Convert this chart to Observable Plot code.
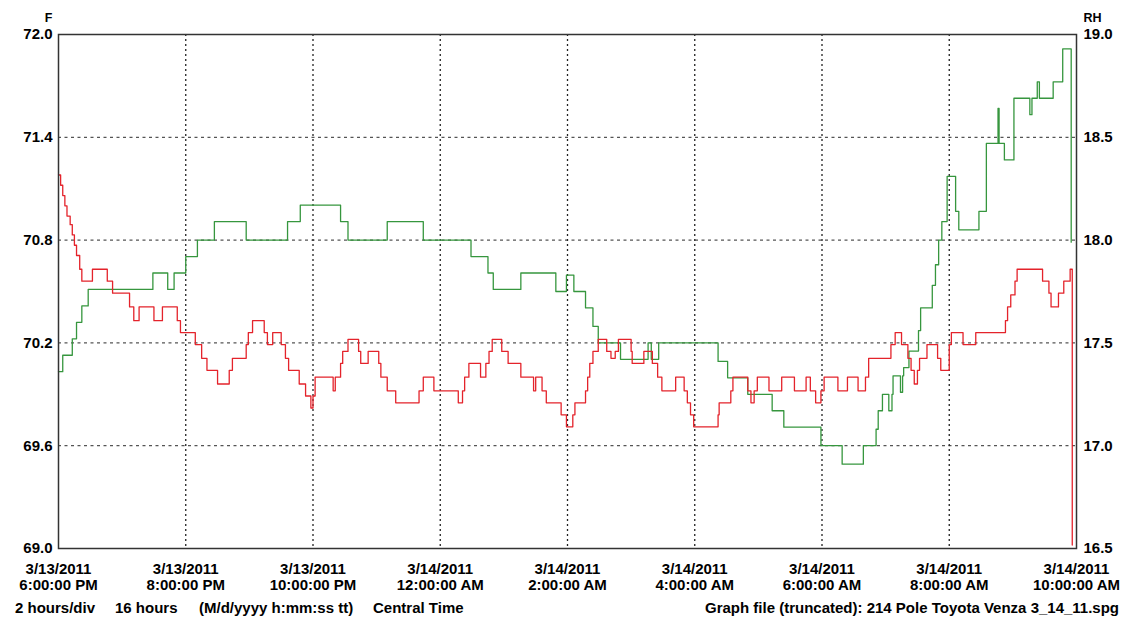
<!DOCTYPE html>
<html><head><meta charset="utf-8">
<script src="https://cdn.jsdelivr.net/npm/d3@7"></script>
<script src="https://cdn.jsdelivr.net/npm/@observablehq/plot@0.6"></script>
<style>
body{margin:0;background:#fff;}
#wrap{position:relative;width:1124px;height:617px;font-family:"Liberation Sans",Arial,sans-serif;font-weight:bold;color:#000;overflow:hidden;}
.foot{position:absolute;top:599px;font-size:15px;line-height:17px;white-space:nowrap;}
</style></head><body>
<div id="wrap"><div id="chart"></div>
<span class="foot" style="left:15px">2 hours/div</span>
<span class="foot" style="left:115px">16 hours</span>
<span class="foot" style="left:199px">(M/d/yyyy h:mm:ss tt)</span>
<span class="foot" style="left:373px">Central Time</span>
<span class="foot" style="left:705px">Graph file (truncated): 214 Pole Toyota Venza 3_14_11.spg</span>
</div>
<script>
// minutes after 3/13/2011 6:00 PM
const tempMinutes = [0,2,4,6,8,11,13,15,17,20,22,32,46,51,67,71,76,90,98,112,115,129,135,140,150,161,164,177,179,183,194,197,202,210,214,217,227,233,238,240,242,259,261,266,268,273,283,285,292,302,304,310,318,340,344,354,377,381,383,387,398,403,406,409,418,424,436,448,450,456,460,474,479,485,487,497,499,501,504,509,517,521,525,528,540,541,552,560,565,569,582,590,593,596,599,622,623,634,636,650,653,656,659,670,682,694,705,709,714,719,722,735,744,754,761,764,785,789,795,801,804,807,810,812,819,829,832,840,842,853,865,893,895,898,902,904,928,934,936,943,948,954,956];
const tempF = [71.18,71.12,71.06,71.00,70.94,70.89,70.83,70.77,70.71,70.63,70.56,70.63,70.56,70.49,70.41,70.33,70.41,70.33,70.41,70.33,70.26,70.19,70.11,70.04,69.96,70.04,70.11,70.19,70.26,70.33,70.26,70.19,70.26,70.19,70.11,70.04,69.96,69.89,69.82,69.89,70.00,69.92,70.00,70.08,70.15,70.22,70.15,70.08,70.15,70.08,70.00,69.92,69.85,69.92,70.00,69.92,69.85,69.92,70.00,70.08,70.00,70.08,70.15,70.22,70.15,70.08,70.00,69.92,70.00,69.92,69.85,69.78,69.71,69.78,69.85,69.92,70.00,70.08,70.15,70.22,70.15,70.11,70.15,70.22,70.15,70.08,70.15,70.08,70.00,69.92,70.00,69.92,69.85,69.78,69.71,69.78,69.85,69.92,70.00,69.92,69.85,69.92,70.00,69.92,70.00,69.92,70.00,69.92,69.85,69.92,70.00,69.92,70.00,69.92,70.00,70.11,70.19,70.26,70.19,70.11,70.04,69.96,70.04,70.11,70.19,70.11,70.04,70.19,70.26,70.19,70.26,70.33,70.41,70.48,70.56,70.63,70.56,70.49,70.41,70.49,70.56,70.63,69.02];
const rhMinutes = [0,4,13,17,22,28,89,103,109,120,131,147,177,216,228,266,273,310,344,389,405,410,436,469,479,486,497,504,509,530,556,559,566,622,631,650,673,684,719,739,759,771,773,777,783,786,787,794,796,797,802,811,813,824,827,830,833,838,846,849,868,875,886,887,892,901,916,918,923,925,938,947,955];
const rhPct = [17.36,17.44,17.52,17.60,17.68,17.76,17.84,17.76,17.84,17.92,18.00,18.09,18.00,18.09,18.17,18.09,18.00,18.09,18.00,17.92,17.84,17.76,17.84,17.75,17.83,17.75,17.67,17.58,17.50,17.42,17.50,17.42,17.50,17.41,17.33,17.25,17.17,17.09,17.00,16.91,17.00,17.08,17.17,17.25,17.17,17.25,17.34,17.26,17.34,17.38,17.46,17.56,17.67,17.78,17.88,18.00,18.09,18.31,18.14,18.05,18.14,18.47,18.64,18.47,18.39,18.69,18.61,18.69,18.77,18.69,18.77,18.93,17.99];
const xTickHours = [0,2,4,6,8,10,12,14,16];
const xTickLabels = ["3/13/2011\n6:00:00 PM","3/13/2011\n8:00:00 PM","3/13/2011\n10:00:00 PM","3/14/2011\n12:00:00 AM","3/14/2011\n2:00:00 AM","3/14/2011\n4:00:00 AM","3/14/2011\n6:00:00 AM","3/14/2011\n8:00:00 AM","3/14/2011\n10:00:00 AM"];
const fTicks = [69.0,69.6,70.2,70.8,71.4,72.0];
const rhTicks = [16.5,17.0,17.5,18.0,18.5,19.0];

const startTime = Date.UTC(2011,2,13,18,0);
const toDate = m => new Date(startTime + m*60000);
const rhToF = r => 69 + (r - 16.5) * 1.2;
const fToRh = f => 16.5 + (f - 69) / 1.2;

const temp = tempMinutes.map((m,i) => ({t: toDate(m), v: tempF[i]}));
const rh = rhMinutes.map((m,i) => ({t: toDate(m), v: rhToF(rhPct[i])}));
const xTicks = xTickHours.map(h => toDate(h*60));

const chart = Plot.plot({
  width: 1124, height: 595,
  marginLeft: 58, marginRight: 48, marginTop: 34, marginBottom: 47,
  style: {fontFamily: '"Liberation Sans", Arial, sans-serif', fontSize: "15px", fontWeight: "bold", color: "#000", background: "#fff"},
  x: {type: "utc", domain: [toDate(0), toDate(960)]},
  y: {domain: [69, 72]},
  marks: [
    Plot.ruleY(fTicks.slice(1,-1), {stroke: "#555", strokeWidth: 1.3, strokeDasharray: "3,3.5", strokeOpacity: 1}),
    Plot.ruleX(xTicks.slice(1,-1), {stroke: "#222", strokeWidth: 1.3, strokeDasharray: "2,3", strokeOpacity: 1}),
    Plot.line(rh, {x: "t", y: "v", curve: "step-after", stroke: "#36963e", strokeWidth: 1.3}),
    Plot.line(temp, {x: "t", y: "v", curve: "step-after", stroke: "#e4232b", strokeWidth: 1.3}),
    Plot.frame({stroke: "#333", strokeWidth: 1.5}),
    Plot.axisX(xTicks, {tickSize: 0, tickPadding: 14, tickFormat: (d, i) => xTickLabels[i], lineHeight: 1.07, label: null}),
    Plot.axisY(fTicks, {anchor: "left", tickSize: 0, tickPadding: 6, tickFormat: d => d.toFixed(1), label: null}),
    Plot.axisY(rhTicks.map(rhToF), {anchor: "right", tickSize: 0, tickPadding: 7, tickFormat: d => fToRh(d).toFixed(1), label: null}),
    Plot.text(["F"], {frameAnchor: "top-left", textAnchor: "end", dx: -6, dy: -21, fontSize: 12.5}),
    Plot.text(["RH"], {frameAnchor: "top-right", textAnchor: "start", dx: 7, dy: -21, fontSize: 12.5})
  ]
});
document.getElementById("chart").appendChild(chart);
</script>
</body></html>
